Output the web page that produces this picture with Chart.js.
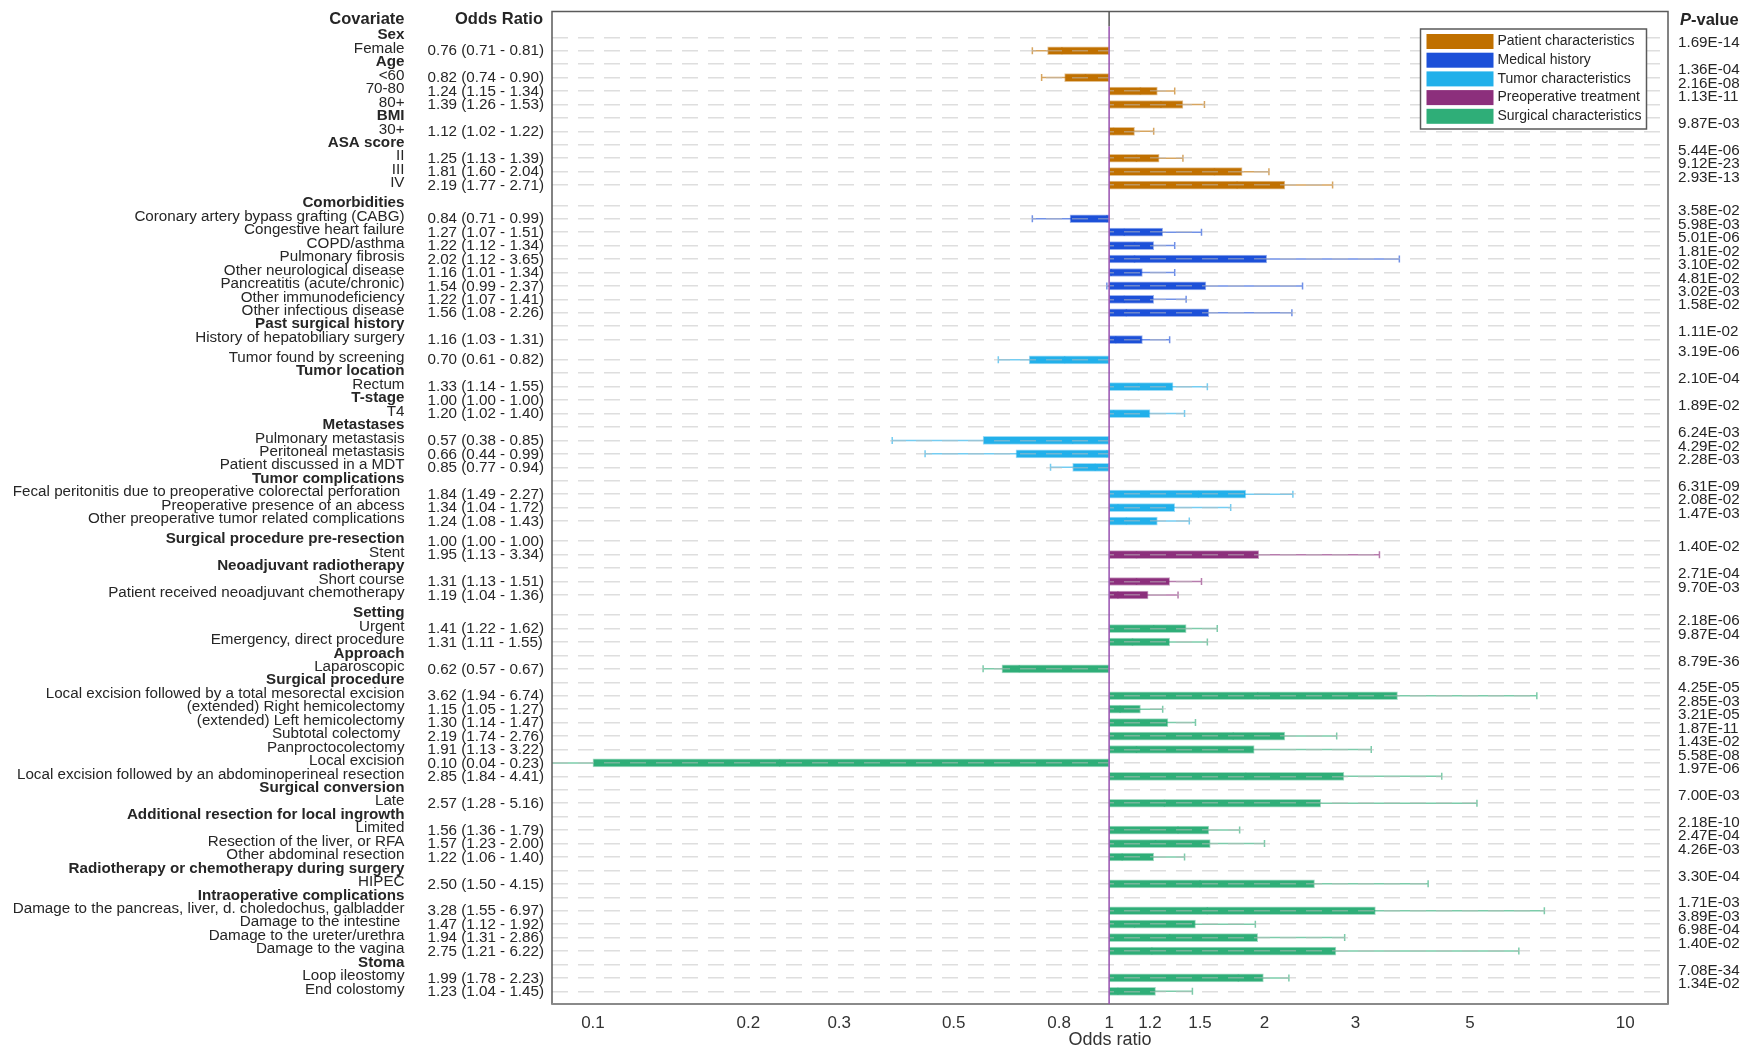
<!DOCTYPE html>
<html>
<head>
<meta charset="utf-8">
<script src="https://cdn.jsdelivr.net/npm/chart.js@4.4.1/dist/chart.umd.min.js"></script>
<style>
  html, body { margin: 0; padding: 0; background: #fff; }
  #wrap { width: 1756px; height: 1052px; }
</style>
</head>
<body>
<div id="wrap"><canvas id="forest"></canvas></div>
<script>
// groups, in the order of the legend
const groupNames = ['Patient characteristics', 'Medical history', 'Tumor characteristics', 'Preoperative treatment', 'Surgical characteristics'];
const groupColors = ['#C07000', '#1C50D8', '#22B0EA', '#8C2F7C', '#2FAE78'];
const groupRowCounts = [12, 11, 13, 5, 29];

const covariates = [
  'Sex', 'Female', 'Age', '<60', '70-80', '80+', 'BMI', '30+', 'ASA score', 'II', 'III', 'IV',
  'Comorbidities', 'Coronary artery bypass grafting (CABG)', 'Congestive heart failure', 'COPD/asthma', 'Pulmonary fibrosis',
  'Other neurological disease', 'Pancreatitis (acute/chronic)', 'Other immunodeficiency', 'Other infectious disease',
  'Past surgical history', 'History of hepatobiliary surgery',
  'Tumor found by screening', 'Tumor location', 'Rectum', 'T-stage', 'T4', 'Metastases', 'Pulmonary metastasis',
  'Peritoneal metastasis', 'Patient discussed in a MDT', 'Tumor complications',
  'Fecal peritonitis due to preoperative colorectal perforation ', 'Preoperative presence of an abcess',
  'Other preoperative tumor related complications',
  'Surgical procedure pre-resection', 'Stent', 'Neoadjuvant radiotherapy', 'Short course', 'Patient received neoadjuvant chemotherapy',
  'Setting', 'Urgent', 'Emergency, direct procedure', 'Approach', 'Laparoscopic', 'Surgical procedure',
  'Local excision followed by a total mesorectal excision', '(extended) Right hemicolectomy', '(extended) Left hemicolectomy',
  'Subtotal colectomy ', 'Panproctocolectomy', 'Local excision', 'Local excision followed by an abdominoperineal resection',
  'Surgical conversion', 'Late', 'Additional resection for local ingrowth', 'Limited', 'Resection of the liver, or RFA',
  'Other abdominal resection', 'Radiotherapy or chemotherapy during surgery', 'HIPEC', 'Intraoperative complications',
  'Damage to the pancreas, liver, d. choledochus, galbladder', 'Damage to the intestine ', 'Damage to the ureter/urethra',
  'Damage to the vagina', 'Stoma', 'Loop ileostomy', 'End colostomy'
];

const headerRows = ['Sex', 'Age', 'BMI', 'ASA score', 'Comorbidities', 'Past surgical history', 'Tumor location', 'T-stage',
  'Metastases', 'Tumor complications', 'Surgical procedure pre-resection', 'Neoadjuvant radiotherapy', 'Setting', 'Approach',
  'Surgical procedure', 'Surgical conversion', 'Additional resection for local ingrowth',
  'Radiotherapy or chemotherapy during surgery', 'Intraoperative complications', 'Stoma'];

// a half row of space is left before these
const halfGapBefore = ['Comorbidities', 'Tumor found by screening', 'Surgical procedure pre-resection', 'Setting'];

const oddsRatio = [
  null, 0.76, null, 0.82, 1.24, 1.39, null, 1.12, null, 1.25, 1.81, 2.19,
  null, 0.84, 1.27, 1.22, 2.02, 1.16, 1.54, 1.22, 1.56, null, 1.16,
  0.70, null, 1.33, 1.00, 1.20, null, 0.57, 0.66, 0.85, null, 1.84, 1.34, 1.24,
  1.00, 1.95, null, 1.31, 1.19,
  null, 1.41, 1.31, null, 0.62, null, 3.62, 1.15, 1.30, 2.19, 1.91, 0.10, 2.85, null, 2.57, null, 1.56, 1.57, 1.22,
  null, 2.50, null, 3.28, 1.47, 1.94, 2.75, null, 1.99, 1.23
];
const ciLow = [
  null, 0.71, null, 0.74, 1.15, 1.26, null, 1.02, null, 1.13, 1.60, 1.77,
  null, 0.71, 1.07, 1.12, 1.12, 1.01, 0.99, 1.07, 1.08, null, 1.03,
  0.61, null, 1.14, 1.00, 1.02, null, 0.38, 0.44, 0.77, null, 1.49, 1.04, 1.08,
  1.00, 1.13, null, 1.13, 1.04,
  null, 1.22, 1.11, null, 0.57, null, 1.94, 1.05, 1.14, 1.74, 1.13, 0.04, 1.84, null, 1.28, null, 1.36, 1.23, 1.06,
  null, 1.50, null, 1.55, 1.12, 1.31, 1.21, null, 1.78, 1.04
];
const ciHigh = [
  null, 0.81, null, 0.90, 1.34, 1.53, null, 1.22, null, 1.39, 2.04, 2.71,
  null, 0.99, 1.51, 1.34, 3.65, 1.34, 2.37, 1.41, 2.26, null, 1.31,
  0.82, null, 1.55, 1.00, 1.40, null, 0.85, 0.99, 0.94, null, 2.27, 1.72, 1.43,
  1.00, 3.34, null, 1.51, 1.36,
  null, 1.62, 1.55, null, 0.67, null, 6.74, 1.27, 1.47, 2.76, 3.22, 0.23, 4.41, null, 5.16, null, 1.79, 2.00, 1.40,
  null, 4.15, null, 6.97, 1.92, 2.86, 6.22, null, 2.23, 1.45
];
const pValues = [
  null, '1.69E-14', null, '1.36E-04', '2.16E-08', '1.13E-11', null, '9.87E-03', null, '5.44E-06', '9.12E-23', '2.93E-13',
  null, '3.58E-02', '5.98E-03', '5.01E-06', '1.81E-02', '3.10E-02', '4.81E-02', '3.02E-03', '1.58E-02', null, '1.11E-02',
  '3.19E-06', null, '2.10E-04', null, '1.89E-02', null, '6.24E-03', '4.29E-02', '2.28E-03', null, '6.31E-09', '2.08E-02', '1.47E-03',
  null, '1.40E-02', null, '2.71E-04', '9.70E-03',
  null, '2.18E-06', '9.87E-04', null, '8.79E-36', null, '4.25E-05', '2.85E-03', '3.21E-05', '1.87E-11', '1.43E-02', '5.58E-08',
  '1.97E-06', null, '7.00E-03', null, '2.18E-10', '2.47E-04', '4.26E-03', null, '3.30E-04', null, '1.71E-03', '3.89E-03',
  '6.98E-04', '1.40E-02', null, '7.08E-34', '1.34E-02'
];

const xTicks = [0.1, 0.2, 0.3, 0.5, 0.8, 1, 1.2, 1.5, 2, 3, 5, 10];

// row positions (in rows) and group of each row
let rowPos = [], rowGroup = [];
let pos = 0;
covariates.forEach(function (name) {
  if (halfGapBefore.includes(name)) pos += 0.5;
  rowPos.push(pos);
  pos += 1;
});
groupRowCounts.forEach(function (n, g) {
  for (let k = 0; k < n; k++) rowGroup.push(g);
});

const datasets = groupNames.map(function (name, g) {
  let pts = [];
  for (let i = 0; i < covariates.length; i++) {
    if (rowGroup[i] !== g || oddsRatio[i] === null) continue;
    if (ciLow[i] === ciHigh[i]) continue; // reference level, nothing to draw
    pts.push({ x: [1, oddsRatio[i]], y: rowPos[i], lo: ciLow[i], hi: ciHigh[i] });
  }
  return {
    label: name,
    data: pts,
    backgroundColor: groupColors[g],
    borderColor: groupColors[g] + '70',
    borderWidth: 1,
    borderSkipped: false,
    barThickness: 8,
    grouped: false
  };
});

const fontFam = '"Liberation Sans", Arial, sans-serif';
const narrowFam = '"Liberation Sans Narrow", "Liberation Sans", Arial, sans-serif';

const forestPlugin = {
  id: 'forestPlugin',
  beforeDatasetsDraw(chart) {
    // confidence intervals, under the bars
    const ctx = chart.ctx, xs = chart.scales.x, ys = chart.scales.y, a = chart.chartArea;
    ctx.save();
    chart.data.datasets.forEach(function (ds, g) {
      ctx.strokeStyle = groupColors[g] + 'A0';
      ctx.lineWidth = 1.5;
      ds.data.forEach(function (p) {
        const y = ys.getPixelForValue(p.y);
        const x1 = xs.getPixelForValue(p.lo), x2 = xs.getPixelForValue(p.hi);
        ctx.beginPath();
        ctx.moveTo(Math.max(x1, a.left), y);
        ctx.lineTo(Math.min(x2, a.right), y);
        [x1, x2].forEach(function (xc) {
          if (xc >= a.left && xc <= a.right) {
            ctx.moveTo(xc, y - 3.5);
            ctx.lineTo(xc, y + 3.5);
          }
        });
        ctx.stroke();
      });
    });
    ctx.restore();
  },
  afterDraw(chart) {
    const ctx = chart.ctx, xs = chart.scales.x, ys = chart.scales.y, a = chart.chartArea;
    ctx.save();

    // frame
    ctx.strokeStyle = '#5a5a5a';
    ctx.lineWidth = 1.5;
    ctx.strokeRect(a.left, a.top, a.right - a.left, a.bottom - a.top);
    ctx.beginPath();
    ctx.strokeStyle = '#8a8a8a';
    ctx.lineWidth = 2;
    ctx.moveTo(a.left, a.bottom);
    ctx.lineTo(a.right, a.bottom);
    ctx.stroke();

    // reference line at OR = 1
    const x1 = xs.getPixelForValue(1);
    ctx.lineWidth = 1.5;
    ctx.beginPath();
    ctx.strokeStyle = '#555';
    ctx.moveTo(x1, a.top);
    ctx.lineTo(x1, a.top + 15);
    ctx.stroke();
    ctx.beginPath();
    ctx.strokeStyle = '#9850B0';
    ctx.moveTo(x1, a.top + 15);
    ctx.lineTo(x1, a.bottom);
    ctx.stroke();

    // column headers
    ctx.fillStyle = '#262626';
    ctx.textBaseline = 'middle';
    ctx.font = 'bold 16.5px ' + fontFam;
    ctx.textAlign = 'right';
    ctx.fillText('Covariate', a.left - 147.5, a.top + 8);
    ctx.textAlign = 'left';
    ctx.fillText('Odds Ratio', a.left - 97, a.top + 8);
    ctx.font = 'italic bold 16.5px ' + fontFam;
    ctx.fillText('P', a.right + 12, a.top + 9);
    const pw = ctx.measureText('P').width;
    ctx.font = 'bold 16.5px ' + fontFam;
    ctx.fillText('-value', a.right + 12 + pw, a.top + 9);

    // rows
    covariates.forEach(function (name, i) {
      const y = ys.getPixelForValue(rowPos[i]);
      const bold = headerRows.includes(name);
      ctx.font = (bold ? 'bold ' : '') + '15.2px ' + fontFam;
      ctx.textAlign = 'right';
      ctx.fillText(name, a.left - 147.5, y - 2);
      ctx.font = '15.2px ' + fontFam;
      ctx.textAlign = 'left';
      if (oddsRatio[i] !== null) {
        const t = oddsRatio[i].toFixed(2) + ' (' + ciLow[i].toFixed(2) + ' - ' + ciHigh[i].toFixed(2) + ')';
        ctx.fillText(t, a.left - 124.5, y + 0.5);
      }
      if (pValues[i] !== null) {
        ctx.fillText(pValues[i], a.right + 10, y - 7.5);
      }
    });

    // legend box
    const bx = a.right - 247.5, by = a.top + 17.5, bw = 226, bh = 100;
    ctx.fillStyle = '#fff';
    ctx.fillRect(bx, by, bw, bh);
    ctx.strokeStyle = '#5a5a5a';
    ctx.lineWidth = 1.5;
    ctx.strokeRect(bx, by, bw, bh);
    ctx.font = '14px ' + fontFam;
    ctx.textAlign = 'left';
    groupNames.forEach(function (name, g) {
      const cy = by + 12.5 + g * 18.7;
      ctx.fillStyle = groupColors[g];
      ctx.fillRect(bx + 6, cy - 7.5, 67, 15);
      ctx.fillStyle = '#262626';
      ctx.fillText(name, bx + 77, cy);
    });
    ctx.restore();
  }
};

new Chart(document.getElementById('forest'), {
  type: 'bar',
  data: { datasets: datasets },
  options: {
    indexAxis: 'y',
    responsive: true,
    maintainAspectRatio: false,
    animation: false,
    devicePixelRatio: 1,
    layout: { padding: { left: 552, right: 88, top: 11.5, bottom: 0 } },
    plugins: { legend: { display: false }, tooltip: { enabled: false } },
    scales: {
      x: {
        type: 'logarithmic',
        min: 0.0833,
        max: 12.1,
        afterBuildTicks: function (s) { s.ticks = xTicks.map(function (v) { return { value: v }; }); },
        afterFit: function (s) { s.height = 48; },
        grid: { display: false, drawTicks: false },
        border: { display: false },
        ticks: {
          autoSkip: false, maxRotation: 0, padding: 9, color: '#333',
          font: { family: narrowFam, size: 17 },
          callback: function (v) { return String(v); }
        },
        title: {
          display: true, text: 'Odds ratio', color: '#333',
          font: { family: narrowFam, size: 18 },
          padding: { top: 0, bottom: 1 }
        }
      },
      y: {
        type: 'linear',
        reverse: true,
        offset: false,
        min: -1.92,
        max: 71.94,
        afterBuildTicks: function (s) { s.ticks = rowPos.map(function (v) { return { value: v }; }); },
        afterFit: function (s) { s.width = 0; },
        ticks: { display: false },
        grid: { color: 'rgba(190,190,190,0.5)', lineWidth: 1.5, drawTicks: false, offset: false, z: 1 },
        border: { display: false, dash: [16, 10] }
      }
    }
  },
  plugins: [forestPlugin]
});
</script>
</body>
</html>
